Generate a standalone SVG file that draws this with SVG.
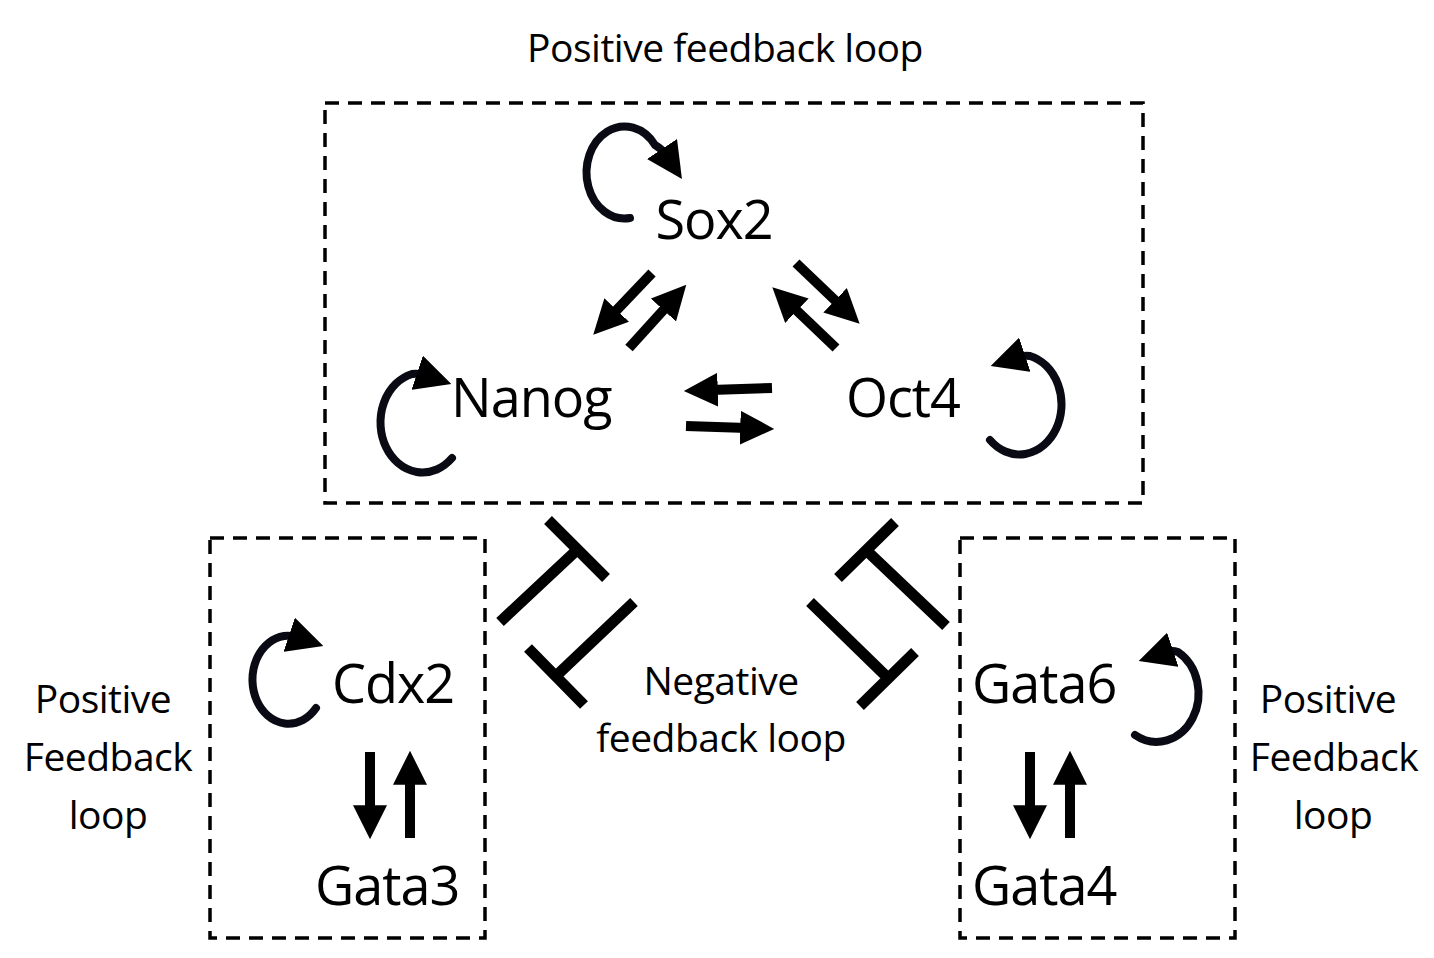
<svg xmlns="http://www.w3.org/2000/svg" width="1434" height="958" viewBox="0 0 1434 958">
<defs>
<style>
text{font-family:"Open Sans","Lato",sans-serif;fill:#000}
.big{font-size:54px;letter-spacing:-1px}
.lbl{font-size:39px;letter-spacing:-0.5px}
.box{fill:none;stroke:#000;stroke-width:3.5;stroke-dasharray:14 9}
.ar{stroke:#000;stroke-width:10;fill:none;marker-end:url(#h)}
.loop{stroke:#0a0a14;stroke-width:8;fill:none;stroke-linecap:round;marker-end:url(#h2)}
.t{stroke:#000;stroke-width:11;fill:none}
</style>
<marker id="h" viewBox="0 0 10 10" refX="2" refY="5" markerWidth="3.4" markerHeight="3.4" orient="auto" markerUnits="strokeWidth"><path d="M0,0L10,5L0,10z"/></marker>
<marker id="h2" viewBox="0 0 10 10" refX="2" refY="5" markerWidth="4.5" markerHeight="4.5" orient="auto" markerUnits="strokeWidth"><path d="M0,0L10,5L0,10z"/></marker>
</defs>
<rect width="1434" height="958" fill="#fff"/>
<g id="boxes">
<rect class="box" x="325" y="103" width="818" height="400"/>
<rect class="box" x="210" y="538" width="275" height="400"/>
<rect class="box" x="960" y="538" width="275" height="400"/>
</g>
<g id="labels">
<text class="lbl" x="725" y="62" text-anchor="middle">Positive feedback loop</text>
<text class="lbl" x="721" y="695" text-anchor="middle">Negative</text>
<text class="lbl" x="721" y="752" text-anchor="middle">feedback loop</text>
<text class="lbl" x="103" y="713" text-anchor="middle">Positive</text>
<text class="lbl" x="108" y="771" text-anchor="middle">Feedback</text>
<text class="lbl" x="108" y="829" text-anchor="middle">loop</text>
<text class="lbl" x="1328" y="713" text-anchor="middle">Positive</text>
<text class="lbl" x="1334" y="771" text-anchor="middle">Feedback</text>
<text class="lbl" x="1333" y="829" text-anchor="middle">loop</text>
</g>
<g id="Sox2"><text class="big" x="714" y="239" text-anchor="middle">Sox2</text></g>
<g id="Nanog"><text class="big" x="451" y="417">Nanog</text></g>
<g id="Oct4"><text class="big" x="846" y="417">Oct4</text></g>
<g id="Cdx2"><text class="big" x="332" y="703">Cdx2</text></g>
<g id="Gata3"><text class="big" x="315" y="905">Gata3</text></g>
<g id="Gata6"><text class="big" x="972" y="703">Gata6</text></g>
<g id="Gata4"><text class="big" x="972" y="905">Gata4</text></g>
<g id="connectors">
<path class="ar" d="M652,273L612,315"/>
<path class="ar" d="M629,348L668,305"/>
<path class="ar" d="M796,263L840,305"/>
<path class="ar" d="M836,348L792,306"/>
<path class="ar" d="M772,388L711,390"/>
<path class="ar" d="M686,426L747,428"/>
<path class="ar" d="M370,752L370,812"/>
<path class="ar" d="M410,838L410,778"/>
<path class="ar" d="M1030,752L1030,812"/>
<path class="ar" d="M1070,838L1070,778"/>
<path class="t" d="M500,622L578,549M548,520L606,578"/>
<path class="t" d="M634,602L556,676M528,648L584,705"/>
<path class="t" d="M946,626L866,550M838,578L895,522"/>
<path class="t" d="M810,602L888,678M860,706L915,652"/>
<path class="loop" d="M630,218A38,46 0 1 1 655,145Q662,149 666,155"/>
<path class="loop" d="M452,458A42,50 0 1 1 412,374Q418,373 424,375"/>
<path class="loop" d="M990,440A42,50 0 1 0 1030,356Q1024,355 1018,357"/>
<path class="loop" d="M316,708A36,44 0 1 1 284,636Q290,635 296,637"/>
<path class="loop" d="M1135,735A40,46 0 1 0 1178,652Q1172,650 1166,652"/>
</g>
</svg>
